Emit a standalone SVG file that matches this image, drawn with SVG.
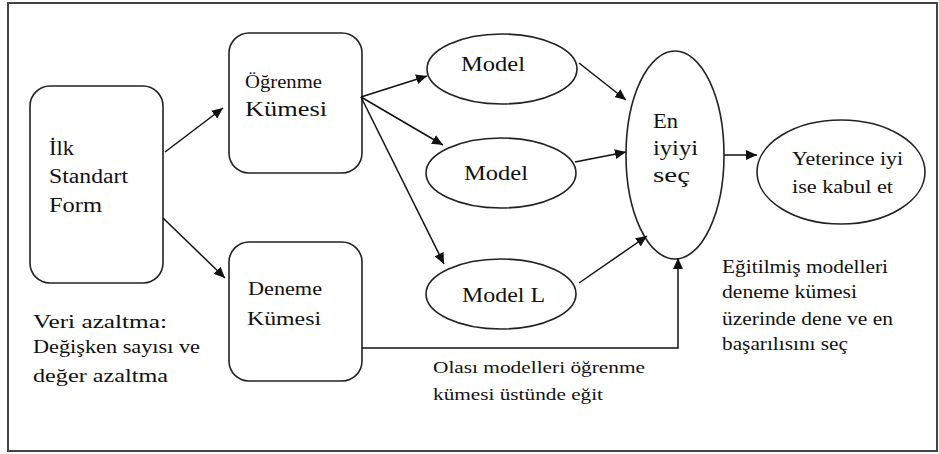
<svg xmlns="http://www.w3.org/2000/svg" width="939" height="454" viewBox="0 0 939 454" font-family="Liberation Serif, DejaVu Serif, serif">
<defs>
<style>
.frame{fill:#fff;stroke:#444;stroke-width:2}
.box{fill:#fff;stroke:#222;stroke-width:1.6}
.t{fill:#111;font-family:'Liberation Serif',serif}
.conn{fill:none;stroke:#111;stroke-width:1.5}
</style>
<marker id="ah" markerUnits="userSpaceOnUse" markerWidth="12" markerHeight="10" refX="11" refY="5" orient="auto">
<path d="M0,0 L11,5 L0,10 z" fill="#111"/>
</marker>
</defs>
<rect class="frame" x="8" y="3" width="929" height="448"/>

<g id="ilk">
<rect class="box" x="30" y="86" width="133" height="197" rx="20"/>
<text class="t" font-size="20" x="49" y="155" textLength="25" lengthAdjust="spacingAndGlyphs">İlk</text>
<text class="t" font-size="20" x="49" y="183" textLength="79" lengthAdjust="spacingAndGlyphs">Standart</text>
<text class="t" font-size="20" x="49" y="212" textLength="53" lengthAdjust="spacingAndGlyphs">Form</text>
</g>

<g id="ogrenme">
<rect class="box" x="229" y="33" width="133" height="140" rx="20"/>
<text class="t" font-size="18" x="245" y="88" textLength="77" lengthAdjust="spacingAndGlyphs">Öğrenme</text>
<text class="t" font-size="22" x="245" y="116" textLength="82" lengthAdjust="spacingAndGlyphs">Kümesi</text>
</g>

<g id="deneme">
<rect class="box" x="229" y="242" width="133" height="139" rx="20"/>
<text class="t" font-size="19" x="248" y="295" textLength="74" lengthAdjust="spacingAndGlyphs">Deneme</text>
<text class="t" font-size="19" x="247" y="325" textLength="74" lengthAdjust="spacingAndGlyphs">Kümesi</text>
</g>

<g id="veri">
<text class="t" font-size="18" x="33" y="328" textLength="134" lengthAdjust="spacingAndGlyphs">Veri azaltma:</text>
<text class="t" font-size="18" x="33" y="353" textLength="167" lengthAdjust="spacingAndGlyphs">Değişken sayısı ve</text>
<text class="t" font-size="18" x="33" y="382" textLength="135" lengthAdjust="spacingAndGlyphs">değer azaltma</text>
</g>

<g id="model1">
<ellipse class="box" cx="502" cy="69" rx="75" ry="35"/>
<text class="t" font-size="20" x="461" y="71" textLength="64" lengthAdjust="spacingAndGlyphs">Model</text>
</g>

<g id="model2">
<ellipse class="box" cx="501" cy="173" rx="75" ry="35"/>
<text class="t" font-size="20" x="464" y="180" textLength="64" lengthAdjust="spacingAndGlyphs">Model</text>
</g>

<g id="modelL">
<ellipse class="box" cx="501" cy="294" rx="75" ry="35"/>
<text class="t" font-size="20" x="462" y="302" textLength="83" lengthAdjust="spacingAndGlyphs">Model L</text>
</g>

<g id="eniyi">
<ellipse class="box" cx="675" cy="155" rx="49" ry="104"/>
<text class="t" font-size="20" x="653" y="128" textLength="25" lengthAdjust="spacingAndGlyphs">En</text>
<text class="t" font-size="20" x="653" y="155" textLength="45" lengthAdjust="spacingAndGlyphs">iyiyi</text>
<text class="t" font-size="20" x="653" y="182" textLength="37" lengthAdjust="spacingAndGlyphs">seç</text>
</g>

<g id="yeterince">
<ellipse class="box" cx="841" cy="172" rx="84" ry="52"/>
<text class="t" font-size="18" x="792" y="165" textLength="111" lengthAdjust="spacingAndGlyphs">Yeterince  iyi</text>
<text class="t" font-size="18" x="792" y="193" textLength="101" lengthAdjust="spacingAndGlyphs">ise kabul et</text>
</g>

<g id="egitilmis">
<text class="t" font-size="18" x="722" y="273" textLength="166" lengthAdjust="spacingAndGlyphs">Eğitilmiş modelleri</text>
<text class="t" font-size="18" x="722" y="298" textLength="135" lengthAdjust="spacingAndGlyphs">deneme kümesi</text>
<text class="t" font-size="18" x="722" y="325" textLength="171" lengthAdjust="spacingAndGlyphs">üzerinde dene ve en</text>
<text class="t" font-size="18" x="722" y="350" textLength="126" lengthAdjust="spacingAndGlyphs">başarılısını seç</text>
</g>

<g id="olasi">
<text class="t" font-size="17" x="433" y="373" textLength="212" lengthAdjust="spacingAndGlyphs">Olası modelleri öğrenme</text>
<text class="t" font-size="17" x="433" y="400" textLength="170" lengthAdjust="spacingAndGlyphs">kümesi üstünde eğit</text>
</g>

<g id="connectors">
<line class="conn" x1="165" y1="152" x2="223" y2="108" marker-end="url(#ah)"/>
<line class="conn" x1="163" y1="218" x2="225" y2="278" marker-end="url(#ah)"/>
<line class="conn" x1="361" y1="97" x2="427" y2="76" marker-end="url(#ah)"/>
<line class="conn" x1="361" y1="97" x2="443" y2="145" marker-end="url(#ah)"/>
<line class="conn" x1="361" y1="97" x2="444" y2="264" marker-end="url(#ah)"/>
<line class="conn" x1="579" y1="63" x2="626" y2="100" marker-end="url(#ah)"/>
<line class="conn" x1="575" y1="162" x2="626" y2="152" marker-end="url(#ah)"/>
<line class="conn" x1="579" y1="283" x2="647" y2="236" marker-end="url(#ah)"/>
<line class="conn" x1="724" y1="155" x2="757" y2="155" marker-end="url(#ah)"/>
<polyline class="conn" points="362,348 678,348 678,258" marker-end="url(#ah)"/>
</g>
</svg>
